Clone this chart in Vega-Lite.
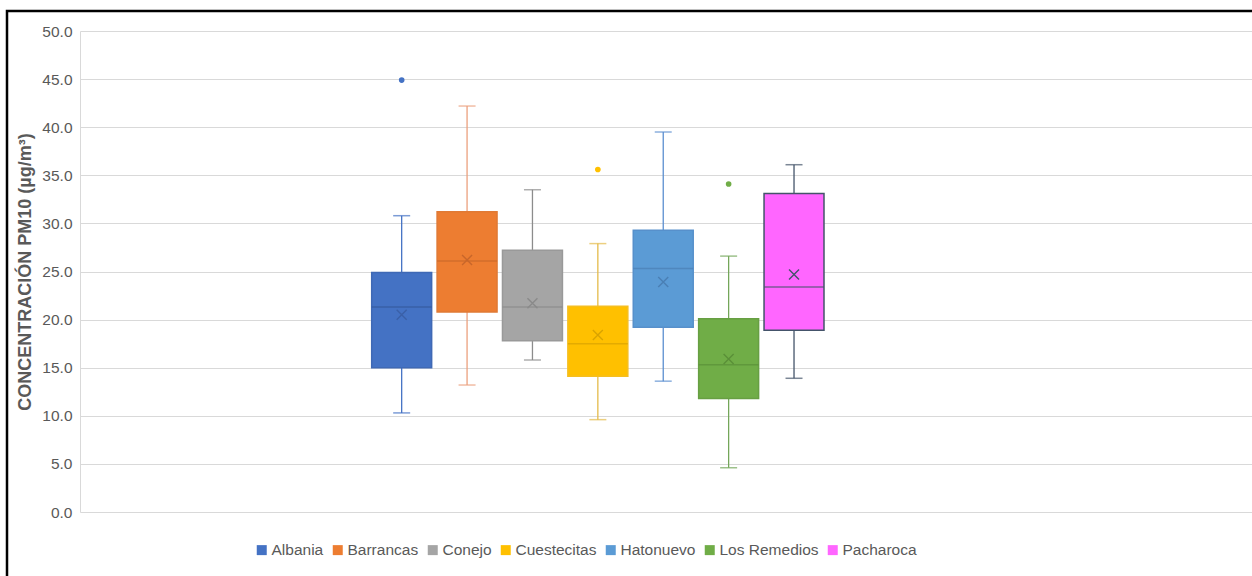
{
  "$schema": "https://vega.github.io/schema/vega-lite/v6.json",
  "width": 1249,
  "height": 569,
  "autosize": {"type": "none"},
  "padding": {"left": 7, "top": 11, "right": -4, "bottom": -4},
  "background": "white",
  "config": {
    "font": "Liberation Sans",
    "view": {"stroke": "black", "strokeWidth": 2.5}
  },
  "datasets": {
    "stats": [
      {"station": "Albania", "lower": 10.3, "q1": 15.0, "median": 21.3, "q3": 24.9, "upper": 30.8, "mean": 20.5},
      {"station": "Barrancas", "lower": 13.2, "q1": 20.8, "median": 26.1, "q3": 31.2, "upper": 42.2, "mean": 26.2},
      {"station": "Conejo", "lower": 15.8, "q1": 17.8, "median": 21.3, "q3": 27.2, "upper": 33.5, "mean": 21.7},
      {"station": "Cuestecitas", "lower": 9.6, "q1": 14.1, "median": 17.5, "q3": 21.4, "upper": 27.9, "mean": 18.4},
      {"station": "Hatonuevo", "lower": 13.6, "q1": 19.2, "median": 25.3, "q3": 29.3, "upper": 39.5, "mean": 23.9},
      {"station": "Los Remedios", "lower": 4.6, "q1": 11.8, "median": 15.3, "q3": 20.1, "upper": 26.6, "mean": 15.9},
      {"station": "Pacharoca", "lower": 13.9, "q1": 18.9, "median": 23.4, "q3": 33.1, "upper": 36.1, "mean": 24.7}
    ],
    "outliers": [
      {"station": "Albania", "value": 44.9},
      {"station": "Cuestecitas", "value": 35.6},
      {"station": "Los Remedios", "value": 34.1}
    ]
  },
  "data": {"name": "stats"},
  "encoding": {
    "x": {
      "field": "station",
      "type": "nominal",
      "axis": null,
      "scale": {
        "type": "band",
        "domain": ["e1", "e2", "e3", "e4", "Albania", "Barrancas", "Conejo", "Cuestecitas", "Hatonuevo", "Los Remedios", "Pacharoca", "e5", "e6", "e7", "e8", "e9", "e10"],
        "range": [73, 1245],
        "paddingInner": 0.083,
        "paddingOuter": 0.503,
        "align": 0.458,
        "round": false
      }
    }
  },
  "layer": [
    {
      "mark": {"type": "rule", "strokeWidth": 1.3},
      "encoding": {
        "y": {
          "field": "lower",
          "type": "quantitative",
          "title": "CONCENTRACIÓN PM10 (µg/m³)",
          "scale": {"domain": [0, 50], "range": [501, 20], "nice": false},
          "axis": {
            "title": "CONCENTRACIÓN PM10 (µg/m³)",
            "values": [0, 5, 10, 15, 20, 25, 30, 35, 40, 45, 50],
            "format": ".1f",
            "offset": -73,
            "ticks": false,
            "domainColor": "#d9d9d9",
            "domainWidth": 1,
            "gridColor": "#d9d9d9",
            "gridWidth": 1,
            "labelFontSize": 15.5,
            "labelColor": "#595959",
            "labelPadding": 8,
            "titleFontSize": 18,
            "titleFontWeight": "bold",
            "titleColor": "#595959",
            "titlePadding": 7
          }
        },
        "y2": {"field": "upper"},
        "stroke": {
          "field": "station",
          "type": "nominal",
          "legend": null,
          "scale": {
            "domain": ["Albania", "Barrancas", "Conejo", "Cuestecitas", "Hatonuevo", "Los Remedios", "Pacharoca"],
            "range": ["#4472C4", "#EBA07D", "#8C8C8C", "#E4BB4A", "#5B8FD0", "#74A65A", "#44546A"]
          }
        }
      }
    },
    {
      "mark": {"type": "tick", "size": 17, "thickness": 1.5},
      "encoding": {
        "y": {"field": "lower", "type": "quantitative", "title": "CONCENTRACIÓN PM10 (µg/m³)", "scale": {"domain": [0, 50], "range": [501, 20], "nice": false}},
        "fill": {
          "field": "station",
          "type": "nominal",
          "legend": null,
          "scale": {
            "domain": ["Albania", "Barrancas", "Conejo", "Cuestecitas", "Hatonuevo", "Los Remedios", "Pacharoca"],
            "range": ["#4472C4", "#EBA07D", "#8C8C8C", "#E4BB4A", "#5B8FD0", "#74A65A", "#44546A"]
          }
        }
      }
    },
    {
      "mark": {"type": "tick", "size": 17, "thickness": 1.5},
      "encoding": {
        "y": {"field": "upper", "type": "quantitative", "title": "CONCENTRACIÓN PM10 (µg/m³)", "scale": {"domain": [0, 50], "range": [501, 20], "nice": false}},
        "fill": {
          "field": "station",
          "type": "nominal",
          "legend": null,
          "scale": {
            "domain": ["Albania", "Barrancas", "Conejo", "Cuestecitas", "Hatonuevo", "Los Remedios", "Pacharoca"],
            "range": ["#4472C4", "#EBA07D", "#8C8C8C", "#E4BB4A", "#5B8FD0", "#74A65A", "#44546A"]
          }
        }
      }
    },
    {
      "mark": {"type": "bar", "strokeWidth": 1.5},
      "encoding": {
        "y": {"field": "q1", "type": "quantitative", "title": "CONCENTRACIÓN PM10 (µg/m³)", "scale": {"domain": [0, 50], "range": [501, 20], "nice": false}},
        "y2": {"field": "q3"},
        "fill": {
          "field": "station",
          "type": "nominal",
          "scale": {
            "domain": ["Albania", "Barrancas", "Conejo", "Cuestecitas", "Hatonuevo", "Los Remedios", "Pacharoca"],
            "range": ["#4472C4", "#ED7D31", "#A5A5A5", "#FFC000", "#5B9BD5", "#70AD47", "#FF66FF"]
          },
          "legend": {
            "orient": "none",
            "legendX": 247,
            "legendY": 531,
            "direction": "horizontal",
            "title": null,
            "symbolType": "square",
            "symbolSize": 100,
            "symbolStrokeWidth": 0,
            "labelFontSize": 15.5,
            "labelColor": "#595959",
            "labelOffset": 2,
            "columnPadding": 6,
            "padding": 0
          }
        },
        "stroke": {
          "field": "station",
          "type": "nominal",
          "legend": null,
          "scale": {
            "domain": ["Albania", "Barrancas", "Conejo", "Cuestecitas", "Hatonuevo", "Los Remedios", "Pacharoca"],
            "range": ["#3F69B5", "#E07A35", "#999999", "#F5BE20", "#5790CB", "#679F43", "#44546A"]
          }
        }
      }
    },
    {
      "mark": {"type": "tick", "size": 60, "thickness": 1.5},
      "encoding": {
        "y": {"field": "median", "type": "quantitative", "title": "CONCENTRACIÓN PM10 (µg/m³)", "scale": {"domain": [0, 50], "range": [501, 20], "nice": false}},
        "fill": {
          "field": "station",
          "type": "nominal",
          "legend": null,
          "scale": {
            "domain": ["Albania", "Barrancas", "Conejo", "Cuestecitas", "Hatonuevo", "Los Remedios", "Pacharoca"],
            "range": ["#35599A", "#C8662A", "#8A8A8A", "#D9A300", "#4A7FB4", "#5A8F38", "#44546A"]
          }
        }
      }
    },
    {
      "mark": {"type": "point", "shape": "M-1,-1L1,1M-1,1L1,-1", "size": 100, "filled": false, "strokeWidth": 1.4, "opacity": 1},
      "encoding": {
        "y": {"field": "mean", "type": "quantitative", "title": "CONCENTRACIÓN PM10 (µg/m³)", "scale": {"domain": [0, 50], "range": [501, 20], "nice": false}},
        "stroke": {
          "field": "station",
          "type": "nominal",
          "legend": null,
          "scale": {
            "domain": ["Albania", "Barrancas", "Conejo", "Cuestecitas", "Hatonuevo", "Los Remedios", "Pacharoca"],
            "range": ["#3A60A8", "#C8662A", "#8A8A8A", "#D9A300", "#4A7FB4", "#5A8F38", "#44546A"]
          }
        }
      }
    },
    {
      "data": {"name": "outliers"},
      "mark": {"type": "point", "shape": "circle", "size": 32, "filled": true, "opacity": 1},
      "encoding": {
        "y": {"field": "value", "type": "quantitative", "title": "CONCENTRACIÓN PM10 (µg/m³)", "scale": {"domain": [0, 50], "range": [501, 20], "nice": false}},
        "fill": {
          "field": "station",
          "type": "nominal",
          "legend": null,
          "scale": {
            "domain": ["Albania", "Barrancas", "Conejo", "Cuestecitas", "Hatonuevo", "Los Remedios", "Pacharoca"],
            "range": ["#4472C4", "#ED7D31", "#A5A5A5", "#FFC000", "#5B9BD5", "#70AD47", "#FF66FF"]
          }
        }
      }
    }
  ],
  "resolve": {"scale": {"fill": "independent", "stroke": "independent"}}
}
